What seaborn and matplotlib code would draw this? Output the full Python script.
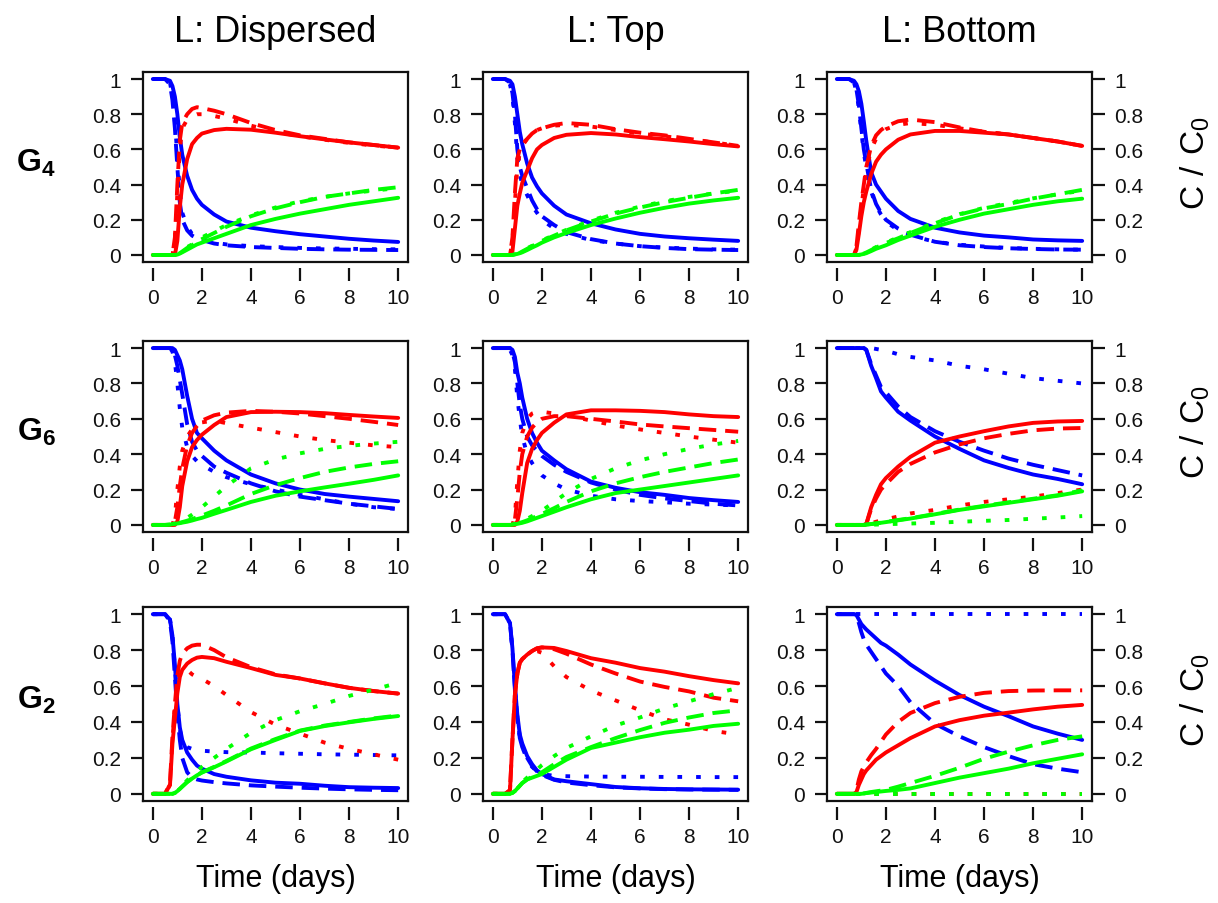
import matplotlib
matplotlib.use("Agg")
import matplotlib.pyplot as plt
import pandas as pd
import seaborn as sns

# time grid (days) shared by every curve
TIME = [0, 0.5, 0.7, 0.8, 0.9, 1.0, 1.1, 1.2, 1.4, 1.6, 1.8, 2.0, 2.5, 3, 4, 5, 6, 7, 8, 9, 10]

STYLES = ["solid", "dashed", "dotted"]
SPECIES = ["blue", "red", "green"]
COL_TITLES = ["L: Dispersed", "L: Top", "L: Bottom"]
ROW_LABELS = [r"$\mathbf{G_4}$", r"$\mathbf{G_6}$", r"$\mathbf{G_2}$"]
Y_TICKS = [0, 0.2, 0.4, 0.6, 0.8, 1]
Y_TICKLABELS = ["0", "0.2", "0.4", "0.6", "0.8", "1"]
X_TICKS = [0, 2, 4, 6, 8, 10]

# each entry: [solid, dashed, dotted]
# ---- G4 ----
g4_dis_blue = [
    [1, 1, 0.99, 0.96, 0.9, 0.8, 0.67, 0.57, 0.45, 0.37, 0.32, 0.285, 0.23, 0.19, 0.155, 0.135, 0.118, 0.105, 0.092, 0.082, 0.074],
    [1, 1, 0.97, 0.88, 0.72, 0.5, 0.3, 0.2, 0.14, 0.11, 0.095, 0.085, 0.065, 0.055, 0.045, 0.04, 0.035, 0.032, 0.03, 0.029, 0.028],
    [1, 1, 0.98, 0.9, 0.76, 0.56, 0.36, 0.24, 0.16, 0.12, 0.1, 0.09, 0.07, 0.06, 0.05, 0.045, 0.04, 0.037, 0.035, 0.033, 0.032],
]
g4_dis_red = [
    [0, 0, 0, 0, 0, 0.08, 0.27, 0.4, 0.545, 0.63, 0.665, 0.69, 0.71, 0.717, 0.712, 0.695, 0.675, 0.657, 0.64, 0.625, 0.61],
    [0, 0, 0, 0, 0.1, 0.4, 0.65, 0.75, 0.8, 0.83, 0.84, 0.835, 0.82, 0.8, 0.75, 0.71, 0.68, 0.66, 0.64, 0.625, 0.61],
    [0, 0, 0, 0, 0.08, 0.35, 0.6, 0.72, 0.77, 0.79, 0.8, 0.8, 0.79, 0.775, 0.735, 0.7, 0.675, 0.655, 0.637, 0.622, 0.61],
]
g4_dis_green = [
    [0, 0, 0, 0, 0, 0.002, 0.008, 0.015, 0.03, 0.045, 0.06, 0.07, 0.095, 0.12, 0.17, 0.205, 0.235, 0.26, 0.285, 0.305, 0.325],
    [0, 0, 0, 0, 0, 0.005, 0.01, 0.02, 0.04, 0.055, 0.075, 0.09, 0.125, 0.16, 0.22, 0.265, 0.3, 0.33, 0.35, 0.37, 0.385],
    [0, 0, 0, 0, 0, 0.005, 0.012, 0.022, 0.045, 0.06, 0.08, 0.1, 0.135, 0.17, 0.225, 0.27, 0.305, 0.33, 0.35, 0.366, 0.38],
]

g4_top_blue = [
    [1, 1, 0.99, 0.97, 0.9, 0.8, 0.7, 0.63, 0.52, 0.44, 0.39, 0.35, 0.28, 0.23, 0.18, 0.145, 0.12, 0.105, 0.095, 0.087, 0.08],
    [1, 1, 0.98, 0.92, 0.8, 0.6, 0.5, 0.45, 0.38, 0.31, 0.26, 0.22, 0.17, 0.13, 0.09, 0.065, 0.05, 0.04, 0.033, 0.03, 0.028],
    [1, 1, 0.97, 0.9, 0.75, 0.55, 0.46, 0.4, 0.34, 0.28, 0.24, 0.2, 0.15, 0.12, 0.085, 0.065, 0.05, 0.042, 0.036, 0.032, 0.03],
]
g4_top_red = [
    [0, 0, 0, 0.02, 0.15, 0.28, 0.35, 0.41, 0.48, 0.55, 0.6, 0.625, 0.665, 0.683, 0.693, 0.685, 0.67, 0.658, 0.645, 0.63, 0.617],
    [0, 0, 0, 0.1, 0.35, 0.55, 0.6, 0.63, 0.66, 0.69, 0.71, 0.72, 0.74, 0.75, 0.74, 0.715, 0.695, 0.68, 0.66, 0.64, 0.62],
    [0, 0, 0, 0.08, 0.3, 0.5, 0.58, 0.62, 0.66, 0.69, 0.71, 0.72, 0.735, 0.74, 0.73, 0.71, 0.69, 0.675, 0.655, 0.64, 0.62],
]
g4_top_green = [
    [0, 0, 0, 0, 0.003, 0.006, 0.01, 0.015, 0.028, 0.042, 0.055, 0.07, 0.1, 0.125, 0.17, 0.207, 0.24, 0.268, 0.292, 0.31, 0.325],
    [0, 0, 0, 0, 0.003, 0.007, 0.012, 0.02, 0.035, 0.05, 0.065, 0.08, 0.11, 0.14, 0.19, 0.235, 0.27, 0.3, 0.325, 0.35, 0.37],
    [0, 0, 0, 0, 0.004, 0.008, 0.014, 0.022, 0.038, 0.052, 0.068, 0.083, 0.113, 0.143, 0.195, 0.24, 0.275, 0.305, 0.33, 0.35, 0.365],
]

g4_bot_blue = [
    [1, 1, 0.99, 0.97, 0.93, 0.86, 0.76, 0.65, 0.47, 0.4, 0.36, 0.32, 0.25, 0.205, 0.155, 0.128, 0.11, 0.1, 0.088, 0.083, 0.08],
    [1, 1, 0.98, 0.94, 0.85, 0.72, 0.6, 0.52, 0.37, 0.29, 0.24, 0.2, 0.15, 0.115, 0.075, 0.055, 0.045, 0.038, 0.034, 0.031, 0.03],
    [1, 1, 0.98, 0.93, 0.83, 0.7, 0.58, 0.5, 0.36, 0.28, 0.23, 0.19, 0.14, 0.11, 0.075, 0.058, 0.048, 0.04, 0.035, 0.032, 0.03],
]
g4_bot_red = [
    [0, 0, 0, 0.03, 0.12, 0.22, 0.3, 0.36, 0.46, 0.53, 0.57, 0.6, 0.655, 0.685, 0.705, 0.705, 0.695, 0.685, 0.665, 0.645, 0.62],
    [0, 0, 0, 0.05, 0.18, 0.3, 0.4, 0.5, 0.62, 0.68, 0.71, 0.73, 0.76, 0.77, 0.755, 0.725, 0.7, 0.685, 0.665, 0.645, 0.62],
    [0, 0, 0, 0.04, 0.15, 0.27, 0.38, 0.48, 0.6, 0.66, 0.695, 0.715, 0.74, 0.75, 0.74, 0.72, 0.7, 0.685, 0.665, 0.645, 0.62],
]
g4_bot_green = [
    [0, 0, 0, 0, 0, 0.003, 0.006, 0.01, 0.022, 0.035, 0.045, 0.055, 0.085, 0.11, 0.16, 0.2, 0.235, 0.26, 0.285, 0.305, 0.32],
    [0, 0, 0, 0, 0, 0.004, 0.008, 0.014, 0.028, 0.042, 0.055, 0.068, 0.095, 0.125, 0.18, 0.23, 0.265, 0.29, 0.32, 0.345, 0.37],
    [0, 0, 0, 0, 0, 0.004, 0.009, 0.015, 0.03, 0.045, 0.058, 0.07, 0.1, 0.13, 0.185, 0.232, 0.268, 0.295, 0.322, 0.345, 0.365],
]

# ---- G6 ----
g6_dis_blue = [
    [1, 1, 1, 1, 0.99, 0.96, 0.93, 0.88, 0.73, 0.6, 0.52, 0.49, 0.42, 0.365, 0.285, 0.235, 0.2, 0.175, 0.16, 0.147, 0.134],
    [1, 1, 1, 0.99, 0.96, 0.9, 0.82, 0.74, 0.57, 0.47, 0.42, 0.39, 0.33, 0.295, 0.235, 0.19, 0.16, 0.14, 0.12, 0.105, 0.09],
    [1, 1, 1, 0.98, 0.92, 0.8, 0.66, 0.55, 0.44, 0.39, 0.36, 0.34, 0.3, 0.27, 0.23, 0.2, 0.17, 0.145, 0.12, 0.1, 0.09],
]
g6_dis_red = [
    [0, 0, 0, 0, 0, 0.02, 0.1, 0.22, 0.36, 0.44, 0.48, 0.51, 0.565, 0.61, 0.638, 0.64, 0.638, 0.632, 0.622, 0.613, 0.605],
    [0, 0, 0, 0, 0.02, 0.1, 0.22, 0.32, 0.45, 0.52, 0.56, 0.59, 0.62, 0.635, 0.645, 0.64, 0.63, 0.615, 0.6, 0.583, 0.565],
    [0, 0, 0, 0, 0.05, 0.2, 0.33, 0.42, 0.5, 0.54, 0.565, 0.58, 0.59, 0.575, 0.55, 0.525, 0.5, 0.48, 0.465, 0.45, 0.44],
]
g6_dis_green = [
    [0, 0, 0.002, 0.004, 0.006, 0.008, 0.01, 0.013, 0.018, 0.025, 0.033, 0.04, 0.063, 0.085, 0.13, 0.165, 0.19, 0.212, 0.233, 0.255, 0.28],
    [0, 0, 0.002, 0.004, 0.006, 0.009, 0.012, 0.016, 0.024, 0.033, 0.043, 0.053, 0.08, 0.11, 0.175, 0.225, 0.265, 0.3, 0.325, 0.345, 0.36],
    [0, 0, 0.002, 0.005, 0.008, 0.012, 0.018, 0.025, 0.04, 0.058, 0.078, 0.1, 0.16, 0.22, 0.32, 0.37, 0.405, 0.43, 0.447, 0.46, 0.47],
]

g6_top_blue = [
    [1, 1, 1, 0.99, 0.95, 0.86, 0.8, 0.72, 0.6, 0.52, 0.465, 0.42, 0.365, 0.315, 0.245, 0.21, 0.185, 0.17, 0.152, 0.14, 0.13],
    [1, 1, 1, 0.98, 0.92, 0.8, 0.68, 0.6, 0.5, 0.45, 0.42, 0.39, 0.34, 0.3, 0.24, 0.2, 0.17, 0.15, 0.135, 0.12, 0.11],
    [1, 1, 0.99, 0.96, 0.88, 0.72, 0.6, 0.5, 0.4, 0.35, 0.31, 0.28, 0.235, 0.2, 0.165, 0.145, 0.135, 0.128, 0.12, 0.115, 0.11],
]
g6_top_red = [
    [0, 0, 0, 0, 0, 0.02, 0.08, 0.18, 0.35, 0.43, 0.48, 0.52, 0.578, 0.625, 0.648, 0.648, 0.645, 0.638, 0.625, 0.615, 0.61],
    [0, 0, 0, 0, 0.03, 0.15, 0.3, 0.4, 0.5, 0.55, 0.58, 0.6, 0.615, 0.615, 0.6, 0.585, 0.568, 0.557, 0.547, 0.537, 0.527],
    [0, 0, 0, 0, 0.05, 0.25, 0.42, 0.52, 0.6, 0.63, 0.64, 0.64, 0.63, 0.62, 0.59, 0.562, 0.54, 0.52, 0.5, 0.482, 0.465],
]
g6_top_green = [
    [0, 0, 0, 0.002, 0.004, 0.006, 0.009, 0.012, 0.02, 0.03, 0.04, 0.05, 0.075, 0.1, 0.145, 0.18, 0.2, 0.22, 0.24, 0.26, 0.28],
    [0, 0, 0, 0.002, 0.005, 0.008, 0.012, 0.016, 0.026, 0.038, 0.05, 0.062, 0.095, 0.13, 0.19, 0.235, 0.27, 0.3, 0.325, 0.35, 0.37],
    [0, 0, 0, 0.003, 0.006, 0.01, 0.015, 0.02, 0.035, 0.05, 0.065, 0.08, 0.13, 0.18, 0.26, 0.32, 0.365, 0.4, 0.43, 0.455, 0.475],
]

g6_bot_blue = [
    [1, 1, 1, 1, 1, 1, 1, 0.99, 0.9, 0.83, 0.755, 0.72, 0.64, 0.59, 0.5, 0.43, 0.365, 0.322, 0.285, 0.26, 0.23],
    [1, 1, 1, 1, 1, 1, 1, 0.99, 0.91, 0.845, 0.78, 0.75, 0.67, 0.61, 0.53, 0.47, 0.42, 0.375, 0.34, 0.31, 0.28],
    [1, 1, 1, 1, 1, 1, 1, 1, 1, 0.995, 0.99, 0.985, 0.965, 0.95, 0.93, 0.9, 0.88, 0.855, 0.83, 0.815, 0.8],
]
g6_bot_red = [
    [0, 0, 0, 0, 0, 0, 0, 0.005, 0.1, 0.17, 0.23, 0.265, 0.33, 0.385, 0.465, 0.5, 0.53, 0.557, 0.577, 0.585, 0.588],
    [0, 0, 0, 0, 0, 0, 0, 0.004, 0.09, 0.15, 0.2, 0.23, 0.3, 0.345, 0.41, 0.455, 0.49, 0.515, 0.535, 0.545, 0.548],
    [0, 0, 0, 0, 0, 0, 0, 0.002, 0.01, 0.018, 0.025, 0.032, 0.048, 0.065, 0.085, 0.11, 0.13, 0.145, 0.16, 0.18, 0.2],
]
g6_bot_green = [
    [0, 0, 0, 0, 0, 0, 0, 0.002, 0.005, 0.008, 0.012, 0.016, 0.026, 0.036, 0.06, 0.085, 0.105, 0.125, 0.145, 0.165, 0.19],
    [0, 0, 0, 0, 0, 0, 0, 0.002, 0.005, 0.009, 0.013, 0.017, 0.028, 0.038, 0.062, 0.087, 0.108, 0.128, 0.148, 0.168, 0.195],
    [0, 0, 0, 0, 0, 0, 0, 0, 0.001, 0.002, 0.003, 0.004, 0.006, 0.008, 0.012, 0.018, 0.023, 0.028, 0.035, 0.042, 0.05],
]

# ---- G2 ----
g2_dis_blue = [
    [1, 1, 0.97, 0.88, 0.72, 0.5, 0.37, 0.3, 0.23, 0.19, 0.157, 0.14, 0.11, 0.095, 0.075, 0.062, 0.056, 0.045, 0.037, 0.034, 0.032],
    [1, 1, 0.96, 0.85, 0.65, 0.45, 0.3, 0.2, 0.12, 0.09, 0.08, 0.074, 0.065, 0.058, 0.047, 0.04, 0.034, 0.029, 0.025, 0.022, 0.02],
    [1, 1, 0.97, 0.88, 0.7, 0.5, 0.36, 0.29, 0.26, 0.25, 0.245, 0.24, 0.235, 0.232, 0.23, 0.226, 0.223, 0.22, 0.218, 0.216, 0.214],
]
g2_dis_red = [
    [0, 0, 0.05, 0.28, 0.42, 0.56, 0.65, 0.69, 0.725, 0.745, 0.758, 0.762, 0.755, 0.735, 0.7, 0.662, 0.642, 0.615, 0.59, 0.572, 0.558],
    [0, 0, 0.06, 0.32, 0.5, 0.66, 0.74, 0.78, 0.81, 0.825, 0.83, 0.83, 0.8, 0.76, 0.705, 0.665, 0.642, 0.615, 0.59, 0.572, 0.558],
    [0, 0, 0.05, 0.3, 0.48, 0.62, 0.68, 0.7, 0.69, 0.665, 0.65, 0.64, 0.6, 0.55, 0.455, 0.385, 0.335, 0.285, 0.25, 0.22, 0.19],
]
g2_dis_green = [
    [0, 0, 0, 0, 0.005, 0.015, 0.027, 0.04, 0.065, 0.085, 0.103, 0.118, 0.148, 0.18, 0.248, 0.3, 0.35, 0.377, 0.398, 0.417, 0.433],
    [0, 0, 0, 0, 0.005, 0.016, 0.028, 0.041, 0.066, 0.086, 0.104, 0.12, 0.15, 0.183, 0.252, 0.305, 0.352, 0.38, 0.4, 0.42, 0.436],
    [0, 0, 0, 0, 0.005, 0.016, 0.03, 0.045, 0.075, 0.1, 0.125, 0.15, 0.2, 0.25, 0.34, 0.41, 0.46, 0.5, 0.545, 0.58, 0.618],
]

g2_top_blue = [
    [1, 1, 0.95, 0.81, 0.6, 0.44, 0.33, 0.28, 0.21, 0.165, 0.13, 0.11, 0.08, 0.07, 0.054, 0.038, 0.031, 0.027, 0.025, 0.024, 0.023],
    [1, 1, 0.95, 0.8, 0.58, 0.42, 0.31, 0.26, 0.2, 0.155, 0.125, 0.105, 0.078, 0.063, 0.048, 0.036, 0.03, 0.026, 0.024, 0.023, 0.022],
    [1, 1, 0.95, 0.8, 0.58, 0.42, 0.32, 0.26, 0.19, 0.15, 0.125, 0.11, 0.1, 0.098, 0.096, 0.095, 0.095, 0.094, 0.094, 0.093, 0.093],
]
g2_top_red = [
    [0, 0, 0.02, 0.3, 0.55, 0.67, 0.73, 0.75, 0.775, 0.795, 0.81, 0.815, 0.812, 0.795, 0.755, 0.73, 0.7, 0.68, 0.655, 0.633, 0.615],
    [0, 0, 0.02, 0.3, 0.55, 0.67, 0.73, 0.75, 0.775, 0.795, 0.81, 0.815, 0.805, 0.78, 0.72, 0.67, 0.625, 0.595, 0.57, 0.535, 0.515],
    [0, 0, 0.02, 0.3, 0.55, 0.67, 0.73, 0.75, 0.775, 0.79, 0.795, 0.785, 0.71, 0.65, 0.575, 0.52, 0.465, 0.415, 0.385, 0.35, 0.33],
]
g2_top_green = [
    [0, 0, 0, 0.005, 0.015, 0.03, 0.045, 0.06, 0.08, 0.09, 0.1, 0.11, 0.15, 0.19, 0.255, 0.285, 0.315, 0.34, 0.357, 0.378, 0.39],
    [0, 0, 0, 0.005, 0.015, 0.03, 0.045, 0.06, 0.08, 0.095, 0.105, 0.12, 0.165, 0.205, 0.26, 0.31, 0.355, 0.395, 0.425, 0.45, 0.465],
    [0, 0, 0, 0.005, 0.016, 0.032, 0.05, 0.066, 0.09, 0.11, 0.135, 0.16, 0.21, 0.255, 0.32, 0.38, 0.425, 0.475, 0.515, 0.555, 0.59],
]

g2_bot_blue = [
    [1, 1, 1, 0.995, 0.97, 0.945, 0.93, 0.915, 0.89, 0.865, 0.84, 0.825, 0.775, 0.72, 0.63, 0.55, 0.485, 0.432, 0.375, 0.335, 0.3],
    [1, 1, 1, 0.99, 0.95, 0.9, 0.86, 0.83, 0.79, 0.75, 0.71, 0.67, 0.6, 0.51, 0.39, 0.32, 0.26, 0.21, 0.165, 0.14, 0.12],
    [1, 1, 1, 1, 1, 1, 1, 1, 1, 1, 1, 1, 1, 1, 1, 1, 1, 1, 1, 1, 1],
]
g2_bot_red = [
    [0, 0, 0, 0.01, 0.05, 0.08, 0.11, 0.13, 0.16, 0.19, 0.21, 0.23, 0.27, 0.31, 0.375, 0.41, 0.435, 0.452, 0.47, 0.485, 0.495],
    [0, 0, 0, 0.02, 0.08, 0.125, 0.15, 0.175, 0.215, 0.25, 0.29, 0.33, 0.4, 0.45, 0.505, 0.54, 0.562, 0.572, 0.575, 0.576, 0.576],
    [0, 0, 0, 0, 0, 0, 0, 0, 0, 0, 0, 0, 0, 0, 0, 0, 0, 0, 0, 0, 0],
]
g2_bot_green = [
    [0, 0, 0, 0, 0, 0, 0.002, 0.004, 0.007, 0.01, 0.013, 0.016, 0.022, 0.03, 0.06, 0.09, 0.115, 0.14, 0.17, 0.195, 0.22],
    [0, 0, 0, 0, 0, 0, 0.002, 0.005, 0.01, 0.014, 0.018, 0.022, 0.04, 0.06, 0.1, 0.145, 0.195, 0.235, 0.27, 0.3, 0.32],
    [0, 0, 0, 0, 0, 0, 0, 0, 0, 0, 0, 0, 0, 0, 0, 0, 0, 0, 0, 0, 0],
]

PANELS = [
    [(g4_dis_blue, g4_dis_red, g4_dis_green), (g4_top_blue, g4_top_red, g4_top_green), (g4_bot_blue, g4_bot_red, g4_bot_green)],
    [(g6_dis_blue, g6_dis_red, g6_dis_green), (g6_top_blue, g6_top_red, g6_top_green), (g6_bot_blue, g6_bot_red, g6_bot_green)],
    [(g2_dis_blue, g2_dis_red, g2_dis_green), (g2_top_blue, g2_top_red, g2_top_green), (g2_bot_blue, g2_bot_red, g2_bot_green)],
]


def panel_frame(curves):
    rows = []
    for species, sets in zip(SPECIES, curves):
        for style, values in zip(STYLES, sets):
            for t, c in zip(TIME, values):
                rows.append((t, c, species, style))
    return pd.DataFrame(rows, columns=["time", "conc", "species", "line"])


sns.set_style("ticks")
plt.rcParams["font.family"] = ["Liberation Sans", "DejaVu Sans"]
plt.rcParams["mathtext.fontset"] = "custom"
plt.rcParams["mathtext.rm"] = "Liberation Sans"
plt.rcParams["mathtext.bf"] = "Liberation Sans:bold"
plt.rcParams["text.color"] = "black"

palette = {"blue": "#0000FF", "red": "#FF0000", "green": "#00FF00"}
dashes = {"solid": "", "dashed": (4.5, 2.3), "dotted": (1.2, 3.6)}

fig = plt.figure(figsize=(12.18, 9.04), dpi=100)

# panel positions in pixels (left edges, top/bottom of each row)
col_left = [143, 483, 827]
panel_w = 265
row_top = [73, 342, 608]
row_bot = [263, 533, 802]
W, H = 1218, 904

for r in range(3):
    for c in range(3):
        ax = fig.add_axes([col_left[c] / W, 1 - row_bot[r] / H,
                           panel_w / W, (row_bot[r] - row_top[r]) / H])
        df = panel_frame(PANELS[r][c])
        sns.lineplot(data=df, x="time", y="conc", hue="species", style="line",
                     hue_order=SPECIES, style_order=STYLES, palette=palette,
                     dashes=dashes, estimator=None, sort=False, legend=False,
                     linewidth=2.8, ax=ax)
        ax.set_xlim(-0.4, 10.4)
        ax.set_ylim(-0.04, 1.04)
        ax.set_xticks(X_TICKS)
        ax.set_yticks(Y_TICKS)
        ax.set_yticklabels(Y_TICKLABELS)
        ax.set_xlabel("")
        ax.set_ylabel("")
        for sp in ax.spines.values():
            sp.set_visible(True)
            sp.set_linewidth(1.6)
            sp.set_color("#111111")
        # R style: x axis ticks sit slightly below the box
        ax.spines["bottom"].set_position(("outward", 4))
        ax.spines["bottom"].set_visible(False)
        ax.plot([0, 1], [0, 0], transform=ax.transAxes, color="#111111",
                lw=1.6, clip_on=False, solid_capstyle="projecting")
        ax.tick_params(axis="both", direction="out", length=9, width=1.6,
                       color="#111111", labelsize=15, labelcolor="#111111")
        ax.tick_params(axis="y", pad=7)
        ax.tick_params(axis="x", pad=6)
        if c == 2:
            ax.tick_params(axis="y", right=True, labelright=True)
        if r == 0:
            ax.set_title(COL_TITLES[c], fontsize=26, pad=22, color="black")
        if r == 2:
            ax.set_xlabel("Time (days)", fontsize=22, labelpad=12, color="black")

for r in range(3):
    yc = (row_top[r] + row_bot[r]) / 2 - 5
    fig.text(36 / W, 1 - yc / H, ROW_LABELS[r], fontsize=23,
             ha="center", va="center")
    fig.text(1195 / W, 1 - yc / H, r"$\mathregular{C\ /\ C_0}$", fontsize=24,
             rotation=90, ha="center", va="center")

fig.savefig("out.png", dpi=100)
